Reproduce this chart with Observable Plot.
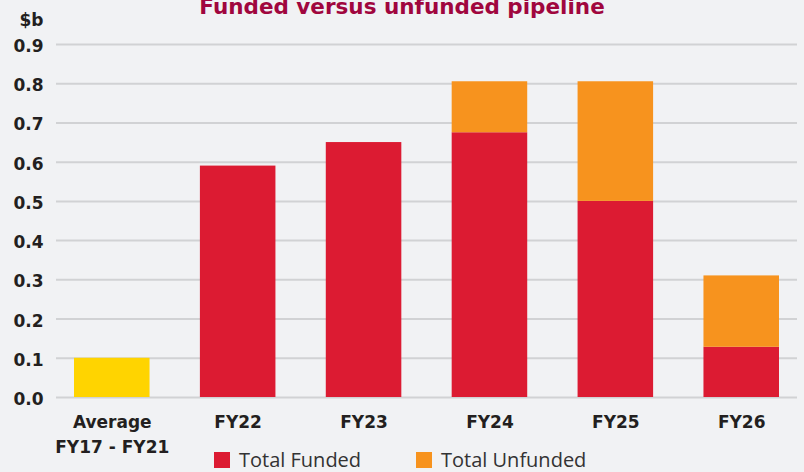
<!DOCTYPE html>
<html>
<head>
<meta charset="utf-8">
<script src="https://cdn.jsdelivr.net/npm/d3@7"></script>
<script src="https://cdn.jsdelivr.net/npm/@observablehq/plot@0.6"></script>
<style>
  html, body { margin: 0; padding: 0; background: #F1F2F4; }
  #wrap { position: relative; width: 804px; height: 472px; overflow: hidden; background: #F1F2F4; font-family: "Open Sans", sans-serif; }
  #title { position: relative; height: 8px; }
  #title span { position: absolute; left: 0; width: 804px; text-align: center; top: -4px; font-family: "DejaVu Sans", sans-serif; font-size: 21.5px; line-height: 22px; font-weight: 700; color: #A0063E; white-space: nowrap; }
  #chart svg { display: block; }
  #legend { position: relative; height: 24px; margin-top: -10px; }
  .item { position: absolute; top: 3px; display: flex; align-items: center; font-size: 20px; color: #333333; line-height: 18px; }
  .sw { width: 16px; height: 16px; margin-right: 9px; }
</style>
</head>
<body>
<div id="wrap">
  <div id="title"><span>Funded versus unfunded pipeline</span></div>
  <div id="chart"></div>
  <div id="legend"></div>
</div>
<script>
const categories = ["Average\nFY17 - FY21", "FY22", "FY23", "FY24", "FY25", "FY26"];
const seriesNames = ["Average FY17 - FY21", "Total Funded", "Total Unfunded"];
const seriesColors = ["#FFD400", "#DC1B32", "#F7931E"];
const averageValues = [0.10, 0, 0, 0, 0, 0];
const fundedValues = [0, 0.59, 0.65, 0.675, 0.50, 0.128];
const unfundedValues = [0, 0, 0, 0.13, 0.305, 0.182];
const yTicks = [0, 0.1, 0.2, 0.3, 0.4, 0.5, 0.6, 0.7, 0.8, 0.9];
const unitLabel = "$b";
const legendNames = ["Total Funded", "Total Unfunded"];

const rows = [];
categories.forEach((c, i) => {
  if (averageValues[i]) rows.push({category: c, series: seriesNames[0], value: averageValues[i]});
  if (fundedValues[i]) rows.push({category: c, series: seriesNames[1], value: fundedValues[i]});
  if (unfundedValues[i]) rows.push({category: c, series: seriesNames[2], value: unfundedValues[i]});
});

const boldFont = "'DejaVu Sans', sans-serif";

const chart = Plot.plot({
  width: 804,
  height: 450,
  marginTop: 36,
  marginBottom: 61,
  marginLeft: 56,
  marginRight: 7,
  style: {background: "transparent", color: "#231F20", fontFamily: boldFont},
  x: {domain: categories, paddingInner: 0.4, paddingOuter: 0.143, round: false, label: null},
  y: {domain: [0, 0.9], label: null},
  color: {domain: seriesNames, range: seriesColors},
  marks: [
    Plot.gridY(yTicks, {stroke: "#D1D2D4", strokeOpacity: 1, strokeWidth: 2}),
    Plot.barY(rows, {x: "category", y: "value", fill: "series"}),
    Plot.axisY(yTicks, {tickSize: 0, tickPadding: 13, dy: 2, tickFormat: d3.format(".1f"), fontSize: 17, fontWeight: 700, label: null}),
    Plot.axisX({tickSize: 0, tickPadding: 13, fontSize: 17, fontWeight: 700, lineHeight: 1.47, label: null}),
    Plot.text([unitLabel], {frameAnchor: "top-left", dx: -13, dy: -19, textAnchor: "end", lineAnchor: "bottom", fontSize: 17, fontWeight: 700, fill: "#231F20"})
  ]
});
document.getElementById("chart").appendChild(chart);

const legend = document.getElementById("legend");
const legendX = [214, 416];
legendNames.forEach((name, i) => {
  const item = document.createElement("div");
  item.className = "item";
  item.style.left = legendX[i] + "px";
  const sw = document.createElement("div");
  sw.className = "sw";
  sw.style.background = seriesColors[seriesNames.indexOf(name)];
  const t = document.createElement("span");
  t.textContent = name;
  item.appendChild(sw);
  item.appendChild(t);
  legend.appendChild(item);
});
</script>
</body>
</html>
